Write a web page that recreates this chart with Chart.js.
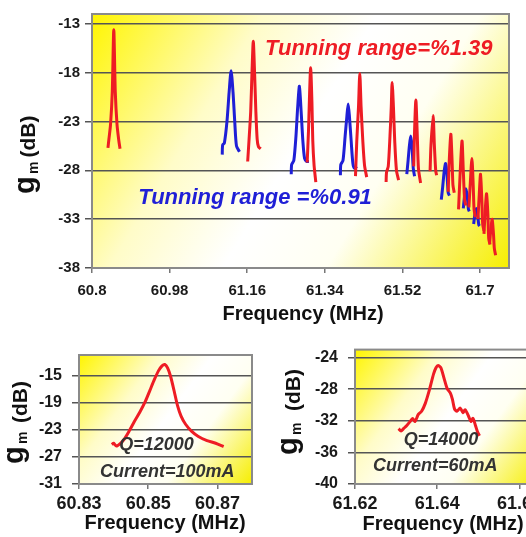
<!DOCTYPE html>
<html>
<head>
<meta charset="utf-8">
<script src="https://cdn.jsdelivr.net/npm/chart.js@4.4.1/dist/chart.umd.min.js"></script>
<style>
  html, body { margin: 0; padding: 0; background: #fff; width: 526px; height: 537px; overflow: hidden; position: relative; }
  canvas { position: absolute; }
  #mainChart { left: 0; top: 0; }
  #q12Chart { left: 0; top: 330px; }
  #q14Chart { left: 270px; top: 330px; }
</style>
</head>
<body>
<canvas id="mainChart" width="526" height="330"></canvas>
<canvas id="q12Chart" width="270" height="207"></canvas>
<canvas id="q14Chart" width="290" height="207"></canvas>
<script>
const FONT = "'Liberation Sans', Arial, sans-serif";
const RED = '#ee1c24';
const BLUE = '#1f1fd6';

// main plot: frequency (MHz) vs gm (dB)
const mainXTicks = [60.8, 60.98, 61.16, 61.34, 61.52, 61.7];
const mainXLabels = ['60.8', '60.98', '61.16', '61.34', '61.52', '61.7'];
const mainYTicks = [-38, -33, -28, -23, -18, -13];

// red set (tunning range 1.39%), one array per resonance peak
const redPeaks = [
    [[60.837,-25.7],[60.839,-24.9],[60.843,-23.3],[60.847,-20],[60.8505,-13.6],[60.854,-20],[60.858,-23.3],[60.862,-24.9],[60.865,-25.8]],
    [[61.161,-27.1],[61.164,-25],[61.168,-22],[61.171,-18],[61.174,-14.8],[61.177,-18],[61.180,-22],[61.183,-24.8],[61.186,-25.6],[61.191,-25.8]],
    [[61.299,-27.2],[61.302,-24],[61.304,-21],[61.307,-17.5],[61.310,-21],[61.312,-25],[61.315,-27.5],[61.319,-29.2]],
    [[61.411,-28.6],[61.414,-25],[61.418,-21.5],[61.421,-18.1],[61.424,-21.5],[61.428,-25],[61.432,-27.5],[61.437,-28.7]],
    [[61.482,-29.2],[61.483,-28.2],[61.487,-27.6],[61.491,-24.5],[61.494,-21.5],[61.496,-19],[61.499,-21.5],[61.502,-25],[61.506,-28],[61.511,-29]],
    [[61.546,-27.6],[61.548,-24],[61.551,-20.8],[61.554,-24],[61.557,-27.8],[61.562,-29.3]],
    [[61.584,-28.1],[61.586,-25.5],[61.591,-22.4],[61.594,-25.5],[61.597,-28],[61.599,-28.5]],
    [[61.626,-30.2],[61.628,-27.5],[61.632,-24.3],[61.635,-27],[61.637,-29.5],[61.640,-30.3]],
    [[61.650,-32],[61.653,-29],[61.658,-25],[61.661,-28],[61.664,-31],[61.667,-31.6]],
    [[61.674,-31.8],[61.677,-29.5],[61.681,-26.8],[61.684,-29.5],[61.686,-32],[61.689,-32.8]],
    [[61.695,-33],[61.698,-30.5],[61.701,-28.4],[61.704,-31],[61.706,-33.5],[61.709,-34.2]],
    [[61.709,-34.5],[61.712,-32],[61.715,-30.4],[61.718,-32.5],[61.720,-35],[61.723,-35.6]],
    [[61.722,-35.5],[61.725,-34],[61.728,-33],[61.731,-34.5],[61.733,-36],[61.736,-36.7]]
];

// blue set (tunning range 0.91%)
const bluePeaks = [
    [[61.102,-26.4],[61.103,-25.4],[61.107,-25.2],[61.113,-23],[61.118,-20],[61.1225,-17.8],[61.127,-20],[61.131,-23],[61.135,-25.5],[61.142,-26.1]],
    [[61.262,-28.4],[61.263,-27.4],[61.268,-27],[61.273,-24.5],[61.277,-21.5],[61.281,-19.4],[61.285,-22],[61.289,-25],[61.293,-26.8],[61.298,-27.1],[61.303,-27.1]],
    [[61.376,-28.5],[61.377,-27.4],[61.382,-27],[61.387,-24.5],[61.391,-22.5],[61.394,-21.2],[61.397,-22.5],[61.401,-25],[61.405,-27.3],[61.409,-27.8],[61.414,-27.6]],
    [[61.530,-28.4],[61.533,-27],[61.536,-25.5],[61.539,-24.5],[61.542,-25.5],[61.545,-27.8],[61.548,-28.6]],
    [[61.610,-31],[61.613,-29.8],[61.617,-28],[61.620,-27.3],[61.623,-28.3],[61.626,-30.3],[61.629,-30.6]],
    [[61.661,-31.9],[61.664,-30.6],[61.667,-29.9],[61.670,-30.6],[61.673,-32],[61.675,-32.2]],
    [[61.685,-33.5],[61.688,-32.5],[61.691,-31.9],[61.694,-32.5],[61.697,-33.6],[61.699,-33.7]]
];

// inset 1: Q=12000, 100mA
const q12XTicks = [60.83, 60.85, 60.87];
const q12XLabels = ['60.83', '60.85', '60.87'];
const q12YTicks = [-31, -27, -23, -19, -15];
const q12Curve = [[60.8395,-25.2],[60.8400,-25.0],[60.8408,-25.4],[60.8420,-25.0],[60.8432,-24.3],[60.8445,-23.2],[60.8460,-21.8],[60.8476,-20.4],[60.8492,-18.8],[60.8505,-17.2],[60.8518,-15.6],[60.8530,-14.3],[60.8540,-13.6],[60.8548,-13.4],[60.8556,-13.9],[60.8565,-15.2],[60.8575,-17.3],[60.8585,-19.5],[60.8595,-21.0],[60.8608,-22.2],[60.8625,-23.2],[60.8645,-24.0],[60.8670,-24.6],[60.8695,-25.0],[60.8718,-25.5]];

// inset 2: Q=14000, 60mA
const q14XTicks = [61.62, 61.64, 61.66];
const q14XLabels = ['61.62', '61.64', '61.66'];
const q14YTicks = [-40, -36, -32, -28, -24];
const q14Curve = [[61.6306,-33.0],[61.6312,-33.3],[61.6318,-33.0],[61.6326,-32.6],[61.6334,-32.1],[61.6340,-31.7],[61.6346,-32.1],[61.6354,-31.2],[61.6362,-30.8],[61.6371,-29.8],[61.6381,-28.1],[61.6391,-26.1],[61.6397,-25.3],[61.6402,-25.0],[61.6409,-25.3],[61.6417,-26.7],[61.6424,-27.9],[61.6432,-28.5],[61.6437,-29.3],[61.6442,-30.5],[61.6448,-30.8],[61.6456,-30.4],[61.6463,-31.0],[61.6468,-30.6],[61.6476,-31.4],[61.6482,-32.1],[61.6487,-31.7],[61.6493,-32.6],[61.6498,-33.4],[61.6503,-33.9]];

function toPoints(arr) {
    return arr.map(p => ({ x: p[0], y: p[1] }));
}

function lineSet(arr, color) {
    return { data: toPoints(arr), borderColor: color, borderWidth: 3, pointRadius: 0, tension: 0.25, fill: false };
}

// background gradient, frame, notes and axis titles
function decor(cfg) {
    return {
        id: 'decor',
        beforeDraw(chart) {
            const { ctx, chartArea: a } = chart;
            const g = ctx.createLinearGradient(a.left, a.top, a.right, a.bottom);
            g.addColorStop(0, '#fff500');
            g.addColorStop(0.3, '#fffcc8');
            g.addColorStop(0.5, '#ffffff');
            g.addColorStop(0.68, '#fffff2');
            g.addColorStop(1, '#f6ee00');
            ctx.save();
            ctx.fillStyle = g;
            ctx.fillRect(a.left, a.top, a.right - a.left, a.bottom - a.top);
            ctx.restore();
        },
        beforeDatasetsDraw(chart) {
            const { ctx, chartArea: a } = chart;
            ctx.save();
            ctx.strokeStyle = '#8a8a8a';
            ctx.lineWidth = 2;
            ctx.strokeRect(a.left, a.top, a.right - a.left, a.bottom - a.top);
            ctx.restore();
        },
        afterDatasetsDraw(chart) {
            const { ctx } = chart;
            const xs = chart.scales.x, ys = chart.scales.y;
            ctx.save();
            cfg.notes.forEach(n => {
                ctx.font = `italic bold ${n.size}px ${FONT}`;
                ctx.fillStyle = n.color;
                ctx.textAlign = n.align;
                ctx.textBaseline = 'alphabetic';
                ctx.fillText(n.text, xs.getPixelForValue(n.x), ys.getPixelForValue(n.y));
            });
            ctx.restore();
        },
        afterDraw(chart) {
            const { ctx } = chart;
            ctx.save();
            ctx.fillStyle = '#111';
            ctx.textAlign = 'center';
            ctx.textBaseline = 'alphabetic';
            ctx.font = `bold 20px ${FONT}`;
            ctx.fillText('Frequency (MHz)', cfg.xTitle[0], cfg.xTitle[1]);
            ctx.textAlign = 'left';
            cfg.yTitle.forEach(p => {
                ctx.save();
                ctx.translate(p.base, p.start);
                ctx.rotate(-Math.PI / 2);
                ctx.font = `bold ${p.size}px ${FONT}`;
                ctx.fillText(p.text, 0, 0);
                ctx.restore();
            });
            ctx.restore();
        }
    };
}

function xScale(min, max, ticks, labels, height, size, pad) {
    return {
        type: 'linear', min: min, max: max,
        afterBuildTicks: s => { s.ticks = ticks.map(v => ({ value: v })); },
        afterFit: s => { s.height = height; },
        ticks: { autoSkip: false, maxRotation: 0, padding: pad, color: '#1a1a1a',
                 font: { family: FONT, size: size, weight: 'bold' },
                 callback: (v, i) => labels[i] },
        grid: { drawOnChartArea: false, tickLength: 5, color: '#777', lineWidth: 1.5 },
        border: { display: false }
    };
}

function yScale(min, max, ticks, width, size, pad) {
    return {
        min: min, max: max,
        afterBuildTicks: s => { s.ticks = ticks.map(v => ({ value: v })); },
        afterFit: s => { s.width = width; },
        ticks: { autoSkip: false, padding: pad, color: '#1a1a1a',
                 font: { family: FONT, size: size, weight: 'bold' },
                 callback: v => String(v) },
        grid: { color: '#555', lineWidth: 1.5, tickLength: 7 },
        border: { display: false }
    };
}

function makeChart(id, datasets, scales, padding, cfg) {
    return new Chart(document.getElementById(id), {
        type: 'line',
        data: { datasets: datasets },
        options: {
            responsive: false,
            animation: false,
            events: [],
            layout: { padding: padding },
            plugins: { legend: { display: false }, tooltip: { enabled: false } },
            scales: scales
        },
        plugins: [decor(cfg)]
    });
}

makeChart('mainChart',
    redPeaks.map(p => lineSet(p, RED)).concat(bluePeaks.map(p => lineSet(p, BLUE))),
    {
        x: xScale(60.8, 61.767, mainXTicks, mainXLabels, 62, 15, 9),
        y: yScale(-38, -12, mainYTicks, 92, 15, 5)
    },
    { top: 13, right: 17, left: 0, bottom: 0 },
    {
        notes: [
            { text: 'Tunning range=%1.39', x: 61.201, y: -16.22, size: 22, color: RED, align: 'left' },
            { text: 'Tunning range =%0.91', x: 60.907, y: -31.43, size: 22, color: BLUE, align: 'left' }
        ],
        xTitle: [303, 320],
        yTitle: [
            { text: 'g', size: 29, base: 34, start: 194 },
            { text: 'm', size: 14, base: 38, start: 174 },
            { text: '(dB)', size: 21, base: 35, start: 157.5 }
        ]
    });

makeChart('q12Chart',
    [lineSet(q12Curve, RED)],
    {
        x: xScale(60.83, 60.88, q12XTicks, q12XLabels, 53, 18, 4),
        y: yScale(-31, -12, q12YTicks, 79, 16, 10)
    },
    { top: 25, right: 18, left: 0, bottom: 0 },
    {
        notes: [
            { text: 'Q=12000', x: 60.8524, y: -26.0, size: 18, color: '#333', align: 'center' },
            { text: 'Current=100mA', x: 60.8555, y: -29.96, size: 18, color: '#333', align: 'center' }
        ],
        xTitle: [165, 199],
        yTitle: [
            { text: 'g', size: 29, base: 23, start: 134 },
            { text: 'm', size: 14, base: 27, start: 114 },
            { text: '(dB)', size: 21, base: 27, start: 93 }
        ]
    });

makeChart('q14Chart',
    [lineSet(q14Curve, RED)],
    {
        x: xScale(61.62, 61.665, q14XTicks, q14XLabels, 53, 18, 4),
        y: yScale(-40, -23, q14YTicks, 85, 16, 10)
    },
    { top: 15, right: 20, left: 0, bottom: 0 },
    {
        notes: [
            { text: 'Q=14000', x: 61.6409, y: -35.05, size: 18, color: '#333', align: 'center' },
            { text: 'Current=60mA', x: 61.6395, y: -38.3, size: 18, color: '#333', align: 'center' }
        ],
        xTitle: [173, 200],
        yTitle: [
            { text: 'g', size: 29, base: 26.5, start: 125 },
            { text: 'm', size: 14, base: 31, start: 105 },
            { text: '(dB)', size: 21, base: 30, start: 81 }
        ]
    });
</script>
</body>
</html>
